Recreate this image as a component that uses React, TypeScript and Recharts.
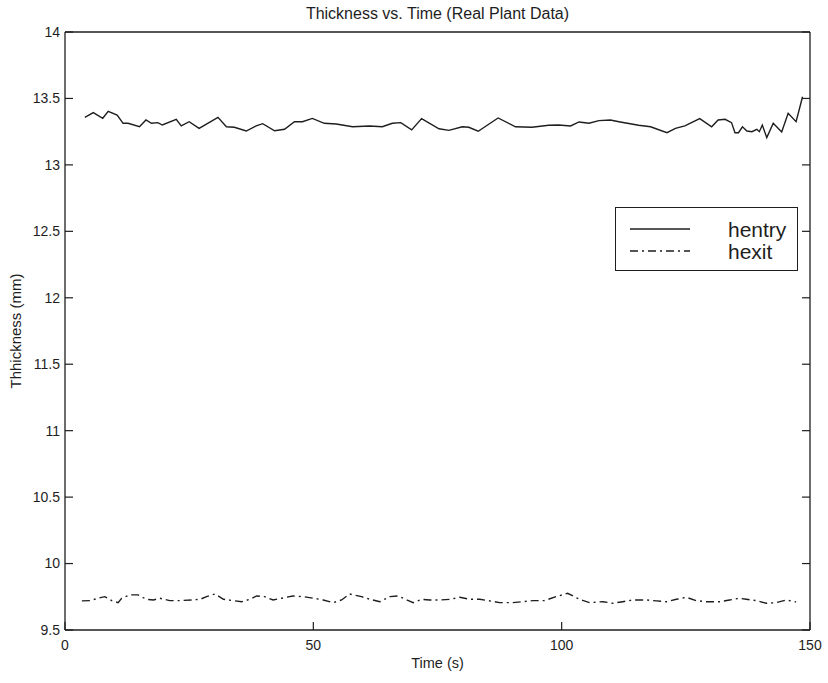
import React from 'react';
import { LineChart, Line, XAxis, YAxis, Legend } from 'recharts';

// Sample times (s) and measured thickness (mm) for each gauge
const hentryTime = [
  4.0, 5.7, 7.6, 8.7, 10.5, 11.7, 12.7, 15.0, 16.3, 17.4,
  18.7, 19.6, 22.4, 23.4, 25.0, 27.0, 30.8, 32.5, 34.1, 36.5,
  38.5, 39.8, 42.2, 44.2, 46.2, 47.8, 49.8, 52.2, 54.6, 57.9,
  61.3, 63.9, 65.9, 67.6, 69.8, 71.8, 75.3, 77.3, 80.0, 81.3,
  83.2, 87.2, 90.7, 94.0, 97.4, 99.4, 101.8, 103.5, 105.5, 107.5,
  109.8, 111.8, 115.5, 117.9, 121.2, 122.9, 124.8, 127.8, 130.2, 131.5,
  132.9, 134.2, 134.9, 135.6, 136.4, 137.3, 138.3, 139.3, 139.8, 140.4,
  141.3, 142.6, 144.3, 145.6, 147.2, 148.5,
];
const hentryThk = [
  13.358, 13.393, 13.351, 13.403, 13.375, 13.313, 13.313, 13.287, 13.338, 13.313,
  13.318, 13.300, 13.343, 13.293, 13.325, 13.275, 13.358, 13.287, 13.283, 13.255,
  13.293, 13.310, 13.257, 13.268, 13.325, 13.325, 13.350, 13.313, 13.308, 13.287,
  13.293, 13.287, 13.313, 13.318, 13.263, 13.348, 13.272, 13.260, 13.287, 13.283,
  13.253, 13.353, 13.287, 13.283, 13.298, 13.300, 13.293, 13.323, 13.313, 13.333,
  13.338, 13.323, 13.298, 13.287, 13.242, 13.275, 13.293, 13.348, 13.287, 13.338,
  13.343, 13.318, 13.242, 13.242, 13.287, 13.255, 13.250, 13.268, 13.250, 13.300,
  13.205, 13.313, 13.248, 13.388, 13.325, 13.513,
];

const hexitTime = [
  3.4, 5.0, 6.7, 8.0, 9.4, 10.7, 11.4, 13.1, 14.7, 16.4,
  17.8, 19.1, 21.1, 23.1, 25.5, 27.2, 28.5, 30.2, 31.9, 33.9,
  35.6, 37.2, 38.6, 40.2, 41.9, 43.6, 45.9, 48.0, 50.0, 52.0,
  54.0, 55.7, 57.3, 59.7, 61.4, 63.4, 65.4, 67.1, 68.8, 70.1,
  71.8, 73.4, 75.5, 77.5, 79.5, 81.5, 83.5, 85.2, 87.5, 90.2,
  92.2, 94.2, 96.5, 98.9, 101.2, 103.6, 105.6, 108.3, 110.3, 112.3,
  114.3, 117.0, 119.1, 121.1, 123.1, 125.1, 127.1, 129.1, 131.8, 133.8,
  135.8, 137.2, 139.2, 141.2, 143.2, 145.2, 147.2,
];
const hexitThk = [
  9.719, 9.721, 9.739, 9.751, 9.721, 9.706, 9.739, 9.764, 9.764, 9.731,
  9.726, 9.739, 9.721, 9.721, 9.726, 9.731, 9.751, 9.771, 9.731, 9.721,
  9.713, 9.731, 9.756, 9.751, 9.726, 9.739, 9.756, 9.751, 9.739, 9.726,
  9.706, 9.726, 9.771, 9.751, 9.731, 9.713, 9.751, 9.756, 9.726, 9.706,
  9.731, 9.726, 9.726, 9.731, 9.746, 9.731, 9.731, 9.721, 9.706, 9.706,
  9.713, 9.721, 9.721, 9.751, 9.776, 9.731, 9.706, 9.713, 9.701, 9.713,
  9.726, 9.726, 9.719, 9.713, 9.731, 9.746, 9.721, 9.713, 9.713, 9.726,
  9.739, 9.731, 9.721, 9.701, 9.706, 9.726, 9.711,
];

const timeTicks = [0, 50, 100, 150];
const thkTicks = [9.5, 10, 10.5, 11, 11.5, 12, 12.5, 13, 13.5, 14];

const FONT = '"Liberation Sans", Arial, Helvetica, sans-serif';
const INK = '#1e1e1e';
const TICK_LEN = 8;

const series = [
  { key: 'hentry', data: hentryTime.map((t, i) => ({ t, v: hentryThk[i] })), dash: undefined },
  { key: 'hexit', data: hexitTime.map((t, i) => ({ t, v: hexitThk[i] })), dash: '8 4 2 4' },
];

// MATLAB-style ticks point into the plot box
const LeftTick = ({ x, y, payload }: any) => (
  <g>
    <line x1={x} y1={y} x2={x + TICK_LEN} y2={y} stroke={INK} strokeWidth={1.2} />
    <text x={x - 5} y={y} dy="0.35em" textAnchor="end" fontSize={14} fill={INK} fontFamily={FONT}>
      {payload.value}
    </text>
  </g>
);

const RightTick = ({ x, y }: any) => (
  <line x1={x} y1={y} x2={x - TICK_LEN} y2={y} stroke={INK} strokeWidth={1.2} />
);

const BottomTick = ({ x, y, payload }: any) => (
  <g>
    <line x1={x} y1={y} x2={x} y2={y - TICK_LEN} stroke={INK} strokeWidth={1.2} />
    <text x={x} y={y + 20} textAnchor="middle" fontSize={14} fill={INK} fontFamily={FONT}>
      {payload.value}
    </text>
  </g>
);

const TopTick = ({ x, y }: any) => (
  <line x1={x} y1={y} x2={x} y2={y + TICK_LEN} stroke={INK} strokeWidth={1.2} />
);

const LegendBox = () => (
  <div style={{ width: 183, height: 64, border: `1.3px solid ${INK}`, background: '#fff', boxSizing: 'border-box' }}>
    <svg width={181} height={62}>
      {series.map((s, i) => (
        <g key={s.key}>
          <line x1={14} x2={74} y1={21 + i * 22} y2={21 + i * 22} stroke={INK} strokeWidth={1.4} strokeDasharray={s.dash} />
          <text x={112} y={29 + i * 22} fontSize={21} fill={INK} fontFamily={FONT}>{s.key}</text>
        </g>
      ))}
    </svg>
  </div>
);

export default function App() {
  return (
    <div style={{ position: 'absolute', left: 0, top: 0, background: '#fff' }}>
      <LineChart width={828} height={683} margin={{ top: 0, right: 0, bottom: 0, left: 0 }}>
        <XAxis
          dataKey="t"
          type="number"
          domain={[0, 150]}
          ticks={timeTicks}
          allowDataOverflow
          height={53}
          tickSize={0}
          tickMargin={0}
          tickLine={false}
          tick={<BottomTick />}
          axisLine={{ stroke: INK, strokeWidth: 1.3 }}
          label={{
            content: ({ viewBox }: any) => (
              <text x={viewBox.x + viewBox.width / 2} y={viewBox.y + 38} textAnchor="middle" fontSize={14.5} fill={INK} fontFamily={FONT}>
                Time (s)
              </text>
            ),
          }}
        />
        <XAxis
          xAxisId="top"
          orientation="top"
          type="number"
          domain={[0, 150]}
          ticks={timeTicks}
          allowDataOverflow
          height={32}
          tickSize={0}
          tickMargin={0}
          tickLine={false}
          tick={<TopTick />}
          axisLine={{ stroke: INK, strokeWidth: 1.3 }}
          label={{
            content: ({ viewBox }: any) => (
              <text x={viewBox.x + viewBox.width / 2} y={viewBox.y + 19} textAnchor="middle" fontSize={16} fill={INK} fontFamily={FONT}>
                Thickness vs. Time (Real Plant Data)
              </text>
            ),
          }}
        />
        <YAxis
          type="number"
          domain={[9.5, 14]}
          ticks={thkTicks}
          allowDataOverflow
          width={65}
          tickSize={0}
          tickMargin={0}
          tickLine={false}
          tick={<LeftTick />}
          axisLine={{ stroke: INK, strokeWidth: 1.3 }}
          label={{
            content: ({ viewBox }: any) => {
              const cx = viewBox.x + 16;
              const cy = viewBox.y + viewBox.height / 2;
              return (
                <text x={cx} y={cy} transform={`rotate(-90 ${cx} ${cy})`} textAnchor="middle" dy="0.35em" fontSize={15} fill={INK} fontFamily={FONT}>
                  Thhickness (mm)
                </text>
              );
            },
          }}
        />
        <YAxis
          yAxisId="right"
          orientation="right"
          type="number"
          domain={[9.5, 14]}
          ticks={thkTicks}
          allowDataOverflow
          width={18}
          tickSize={0}
          tickMargin={0}
          tickLine={false}
          tick={<RightTick />}
          axisLine={{ stroke: INK, strokeWidth: 1.3 }}
        />
        <Legend
          content={<LegendBox />}
          layout="horizontal"
          verticalAlign="middle"
          wrapperStyle={{ position: 'absolute', left: 615, top: 207, width: 183, height: 64 }}
        />
        {series.map((s) => (
          <Line
            key={s.key}
            name={s.key}
            data={s.data}
            dataKey="v"
            type="linear"
            stroke={INK}
            strokeWidth={1.4}
            strokeDasharray={s.dash}
            dot={false}
            activeDot={false}
            isAnimationActive={false}
          />
        ))}
      </LineChart>
    </div>
  );
}
